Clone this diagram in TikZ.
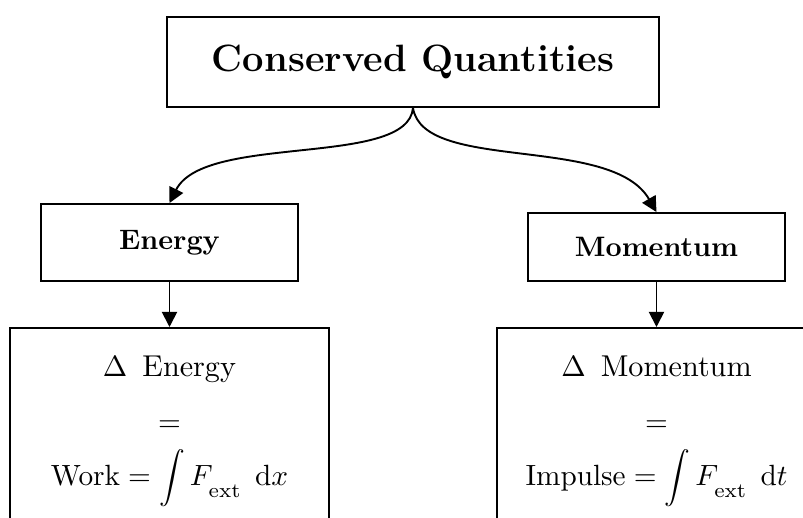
\documentclass[tikz,border=0pt]{standalone}
\usetikzlibrary{arrows.meta}
\begin{document}
\begin{tikzpicture}[x=0.3415pt,y=-0.3415pt,
  box/.style={draw,line width=0.65pt,rectangle,inner sep=0pt},
  conn/.style={line width=0.65pt,-{Triangle[length=5.2pt,width=5.2pt]}},
  label/.style={font=\fontsize{9.6pt}{11pt}\selectfont\bfseries},
  formula/.style={box,anchor=north,minimum width=108.9pt,inner ysep=9.6pt,align=center,
    font=\fontsize{10.3pt}{12pt}\selectfont,
    execute at begin node={\baselineskip=18.6pt\lineskiplimit=-100pt}}]
\useasboundingbox (0,0) rectangle (803,518);
\clip (0,0) rectangle (803,518);
\newcommand\bigintegral{\mathop{\vcenter{\hbox{\scalebox{0.88}{$\displaystyle\int$}}}}\nolimits}
\newcommand\extsub{_{\raisebox{-0.25em}{$\scriptstyle\mathrm{ext}$}}}
\node[box,minimum width=168pt,minimum height=30.7pt,font=\fontsize{13pt}{16pt}\selectfont\bfseries] (cq) at (413,62) {Conserved Quantities};
\node[box,label,minimum width=87.8pt,minimum height=26.3pt] (en) at (169.5,242.5) {Energy};
\node[box,label,minimum width=87.8pt,minimum height=23.2pt] (mo) at (656.5,247) {Momentum};
\node[formula] (de) at (169.5,327) {$\Delta$\, Energy\\ $=$\\ $\mathrm{Work}=\bigintegral F\extsub\;\,\mathrm{d}x$};
\node[formula] (dm) at (656.5,327) {$\Delta$\, Momentum\\ $=$\\ $\mathrm{Impulse}=\bigintegral F\extsub\;\,\mathrm{d}t$};
\draw[conn] (cq.south) .. controls +(-5,60) and +(35,-70) .. (en.north);
\draw[conn] (cq.south) .. controls +(10,65) and +(-45,-78) .. (mo.north);
\draw[conn] (en.south) -- (de.north);
\draw[conn] (mo.south) -- (dm.north);
\end{tikzpicture}
\end{document}
